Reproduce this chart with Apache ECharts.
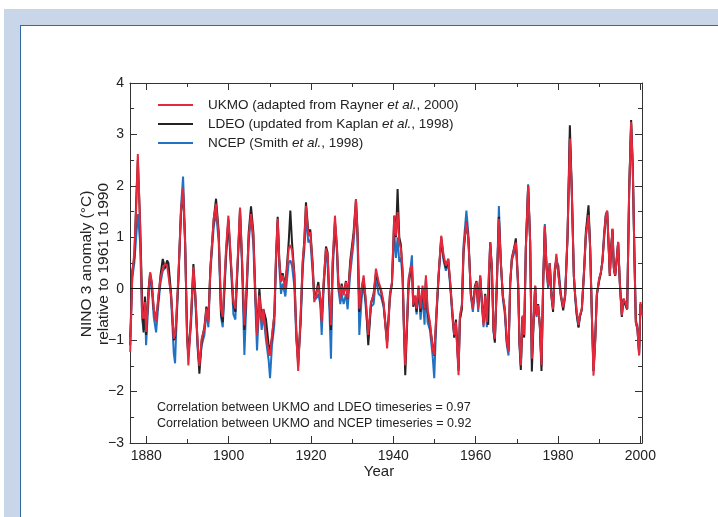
<!DOCTYPE html>
<html>
<head>
<meta charset="utf-8">
<script src="https://cdn.jsdelivr.net/npm/echarts@6/dist/echarts.min.js"></script>
<style>
  html, body { margin:0; padding:0; width:718px; height:517px; overflow:hidden; background:#fff; }
  #bg { position:absolute; left:4px; top:9px; right:0; bottom:0; background:#c9d5e8; }
  #panel { position:absolute; left:20px; top:25px; right:0; bottom:0; background:#fff;
           border-top:1px solid #2f6aa6; border-left:1px solid #2f6aa6; }
  #chart { position:absolute; left:0; top:0; width:718px; height:517px; }
</style>
</head>
<body>
<div id="bg"></div>
<div id="panel"></div>
<div id="chart"></div>
<script>
// ---- data ----
const years = [
 1876.1,1876.6,1877.1,1877.55,1877.95,1878.5,1879.0,1879.35,1879.7,1879.96,
 1880.5,1880.93,1881.34,1881.82,1882.39,1882.95,1883.44,1884.0,1884.57,1885.06,
 1885.38,1886.03,1886.68,1887.0,1887.24,1887.81,1888.45,1888.94,1889.43,1889.91,
 1890.23,1890.88,1891.45,1891.93,1892.5,1892.9,1893.47,1894.12,1894.6,1895.09,
 1895.57,1896.38,1896.95,
 1897.6,1898.16,1898.57,1899.38,1899.94,1900.59,1901.16,1901.64,1902.21,1902.77,
 1903.26,1903.83,1904.39,1904.88,1905.44,1906.01,1906.5,1906.9,1907.47,1908.03,
 1908.44,1909.08,1909.73,1910.06,1910.54,1911.11,1911.51,1911.92,1912.32,1912.73,
 1913.13,1913.78,1914.59,1914.99,1915.4,1915.96,1916.45,1916.9,1917.5,1918.0,
 1918.39,1918.79,
 1919.36,1919.84,1920.41,1920.81,1921.22,1921.79,1922.27,1922.6,1923.08,1923.65,
 1924.05,1924.46,1924.86,1925.27,1925.83,1926.32,1926.64,1927.13,1927.45,1927.94,
 1928.5,1928.9,1929.55,1930.36,1930.93,1931.33,1931.74,1932.3,1932.79,1933.36,
 1933.92,1934.57,1935.22,1935.78,1936.43,1937.0,1937.64,1938.5,
 1939.18,1939.67,1940.23,1940.64,1941.04,1941.45,1941.85,1942.25,1942.58,1942.9,
 1943.31,1943.71,1944.12,1944.52,1944.84,1945.33,1945.65,1946.14,1946.62,1947.11,
 1947.59,1947.92,1948.32,1948.89,1949.54,1949.94,1950.51,1950.99,1951.64,1952.21,
 1952.77,1953.34,1953.82,1954.39,1954.79,1955.2,1955.85,1956.17,1956.66,1957.06,
 1957.75,1958.2,1958.5,
 1958.84,1959.32,1959.81,1960.21,1960.62,1961.1,1961.51,1961.91,1962.32,1962.72,
 1963.05,1963.53,1963.94,1964.34,1964.66,1965.15,1965.64,1966.12,1966.61,1967.09,
 1967.58,1967.98,1968.39,1968.79,1969.36,1969.76,1969.92,1970.33,1970.65,1970.97,
 1971.38,1971.78,1972.19,1972.75,1973.24,1973.65,1974.05,1974.45,1974.78,1975.18,
 1975.59,1975.99,1976.4,1976.8,1977.2,1977.61,1978.0,1978.4,1978.8,1979.2,
 1979.6,1980.1,
 1980.69,1981.26,1981.74,1982.31,1982.88,1983.36,1983.85,1984.17,1984.5,1984.98,
 1985.3,1985.79,1986.36,1986.76,1987.41,1987.81,1988.22,1988.62,1989.03,1989.43,
 1989.99,1990.4,1990.8,1991.21,1991.61,1991.94,1992.26,1992.58,1992.91,1993.23,
 1993.56,1993.88,1994.2,1994.61,1995.01,1995.5,1995.9,1996.31,1996.8,1997.28,
 1997.76,1998.17,1998.57,1998.9,1999.3,1999.7,2000.03,2000.35
];

const ukmo = [
 -1.23,0.26,0.71,1.55,2.62,1.23,-0.52,-0.58,-0.26,-0.84,
 -0.13,0.32,0.13,-0.39,-0.65,-0.13,0.2,0.39,0.48,0.45,
 0.45,-0.13,-0.97,-0.9,-0.65,0.26,1.55,1.95,0.9,-0.9,
 -1.49,-0.52,0.42,-0.13,-1.1,-1.5,-0.97,-0.78,-0.39,-0.65,
 0.39,1.36,1.65,
 1.03,-0.39,-0.55,0.78,1.42,0.52,-0.26,-0.39,0.58,1.58,
 0.58,-0.71,0.06,1.03,1.45,1.03,-0.13,-0.9,-0.13,-0.65,
 -0.39,-0.9,-1.23,-1.3,-0.9,-0.52,0.65,1.36,0.52,0.13,
 0.26,0.0,0.78,0.85,0.75,0.26,-0.9,-1.6,-0.5,0.55,
 0.9,1.61,
 1.03,1.1,0.45,-0.26,-0.13,0.06,-0.19,-0.65,0.13,0.78,
 0.65,-0.13,-0.71,0.52,1.42,0.78,0.13,-0.19,0.06,-0.13,
 0.13,-0.19,0.45,1.03,1.74,1.03,-0.39,0.0,0.26,-0.26,
 -0.9,-0.26,-0.13,0.39,0.13,0.0,-0.26,-1.16,
 -0.13,0.13,1.42,1.03,1.49,0.9,0.78,0.39,-0.78,-1.49,
 -0.71,0.13,0.39,0.45,-0.32,-0.13,-0.39,0.06,-0.39,0.06,
 -0.39,0.26,-0.39,-0.65,-1.16,-1.29,-0.39,0.26,1.03,0.65,
 0.45,0.58,0.13,-0.52,-0.9,-0.65,-1.68,-0.52,-0.32,0.78,
 1.3,1.0,0.5,
 -0.13,-0.39,0.0,0.13,-0.39,0.26,-0.26,-0.71,-0.13,-0.65,
 -0.65,0.9,0.39,-0.78,-0.97,0.13,1.36,0.52,-0.13,-0.39,
 -1.03,-1.23,0.13,0.58,0.78,0.9,0.71,0.06,-1.03,-1.49,
 -0.52,-0.9,0.78,2.0,0.9,-1.36,-0.65,0.06,-0.52,-0.32,
 -0.71,-1.49,0.13,1.23,0.45,0.06,0.5,-0.15,-0.4,0.3,
 0.68,0.26,
 -0.13,-0.36,-0.13,1.04,2.92,1.88,0.26,-0.13,-0.39,-0.71,
 -0.52,-0.39,0.39,1.04,1.43,0.78,-0.52,-1.69,-1.04,-0.13,
 0.19,0.32,0.52,1.04,1.43,1.52,0.91,0.26,0.78,1.17,
 0.39,0.26,0.52,0.91,0.13,-0.52,-0.19,-0.26,-0.39,1.88,
 3.24,2.33,0.58,-0.65,-0.78,-1.3,-0.26,-0.52
];

const ldeo = [
 -1.1,0.35,0.6,1.7,2.5,1.3,-0.2,-0.85,-0.15,-0.9,
 -0.05,0.3,0.1,-0.4,-0.6,-0.2,0.25,0.58,0.4,0.55,
 0.5,-0.1,-1.0,-0.95,-0.7,0.2,1.5,1.85,0.9,-0.85,
 -1.3,-0.55,0.48,-0.15,-1.1,-1.65,-1.0,-0.75,-0.35,-0.6,
 0.4,1.35,1.75,
 1.1,-0.5,-0.65,0.7,1.35,0.45,-0.3,-0.45,0.5,1.55,
 0.55,-0.8,0.0,1.1,1.6,1.1,-0.1,-0.85,0.0,-0.6,
 -0.4,-0.6,-1.1,-1.2,-0.95,-0.5,0.6,1.4,0.55,0.15,
 0.3,0.05,0.9,1.52,0.9,0.3,-0.85,-1.5,-0.55,0.5,
 0.95,1.68,
 1.1,1.15,0.5,-0.2,-0.1,0.13,-0.2,-0.6,0.1,0.82,
 0.7,-0.2,-0.8,0.5,1.3,0.8,0.15,-0.15,0.1,-0.1,
 0.15,-0.2,0.55,1.1,1.74,1.1,-0.45,0.0,0.2,-0.3,
 -1.1,-0.3,-0.1,0.3,0.1,-0.05,-0.3,-1.05,
 -0.1,0.1,1.42,1.0,1.94,1.0,0.85,0.3,-0.8,-1.68,
 -0.8,0.05,0.3,0.4,-0.35,-0.2,-0.45,0.0,-0.45,0.0,
 -0.4,0.2,-0.45,-0.7,-1.1,-1.3,-0.45,0.25,1.0,0.6,
 0.4,0.58,0.1,-0.5,-0.95,-0.6,-1.6,-0.6,-0.4,0.7,
 1.3,1.0,0.5,
 -0.1,-0.35,0.05,0.15,-0.35,0.25,-0.25,-0.65,-0.1,-0.6,
 -0.7,0.9,0.4,-0.8,-1.05,0.1,1.4,0.5,-0.15,-0.4,
 -1.05,-1.2,0.1,0.6,0.8,0.98,0.75,0.05,-1.1,-1.58,
 -0.55,-0.95,0.8,2.0,0.9,-1.61,-0.7,0.05,-0.5,-0.3,
 -0.75,-1.6,0.1,1.2,0.45,0.05,0.5,-0.15,-0.45,0.3,
 0.6,0.3,
 -0.15,-0.42,-0.15,1.0,3.18,1.9,0.25,-0.15,-0.45,-0.75,
 -0.55,-0.4,0.4,1.1,1.62,0.8,-0.5,-1.6,-1.0,-0.1,
 0.15,0.3,0.55,1.0,1.4,1.5,0.9,0.25,0.8,1.15,
 0.4,0.25,0.5,0.9,0.1,-0.55,-0.2,-0.3,-0.4,1.9,
 3.28,2.35,0.6,-0.65,-0.8,-1.28,-0.3,-0.5
];

const ncep = [
 -0.95,0.2,0.5,1.0,1.45,0.9,-0.6,-0.8,-0.4,-1.1,
 -0.3,0.25,0.0,-0.55,-0.85,-0.3,0.1,0.35,0.4,0.5,
 0.4,-0.2,-1.25,-1.45,-0.9,0.2,1.6,2.18,1.0,-1.0,
 -1.3,-0.7,0.35,-0.25,-1.2,-1.5,-1.1,-0.9,-0.45,-0.75,
 0.3,1.2,1.5,
 0.9,-0.55,-0.75,0.6,1.3,0.4,-0.5,-0.6,0.5,1.45,
 0.45,-1.29,-0.1,0.9,1.4,0.85,-0.3,-1.2,-0.25,-0.8,
 -0.5,-1.0,-1.4,-1.74,-1.1,-0.7,0.5,1.3,0.4,-0.1,
 0.1,-0.15,0.5,0.55,0.45,0.05,-1.0,-1.4,-0.7,0.4,
 0.75,1.4,
 0.9,0.95,0.3,-0.15,-0.2,-0.1,-0.3,-0.9,0.0,0.65,
 0.5,-0.35,-1.36,0.3,1.25,0.7,0.0,-0.3,-0.1,-0.3,
 -0.1,-0.4,0.3,0.9,1.55,0.9,-0.9,-0.2,0.1,-0.4,
 -0.95,-0.35,-0.3,0.2,-0.1,-0.15,-0.35,-1.05,
 -0.2,0.1,1.1,0.6,1.0,0.52,0.6,0.2,-0.7,-1.3,
 -0.7,0.2,0.35,0.65,-0.2,-0.2,-0.5,0.0,-0.6,-0.1,
 -0.7,0.15,-0.65,-0.8,-1.3,-1.74,-0.5,0.2,0.95,0.55,
 0.35,0.5,0.05,-0.6,-0.9,-0.7,-1.55,-0.6,-0.3,0.85,
 1.52,1.1,0.55,
 -0.15,-0.45,-0.05,0.1,-0.45,0.2,-0.3,-0.75,-0.2,-0.75,
 -0.75,0.9,0.35,-0.85,-1.0,0.1,1.61,0.5,-0.2,-0.5,
 -1.1,-1.3,0.1,0.55,0.7,0.8,0.65,0.0,-1.05,-1.5,
 -0.55,-0.9,0.8,2.03,0.9,-1.4,-0.65,0.05,-0.55,-0.35,
 -0.7,-1.5,0.15,1.26,0.4,0.0,0.5,-0.1,-0.35,0.4,
 0.55,0.45,
 -0.1,-0.35,-0.1,1.0,2.95,1.85,0.25,-0.15,-0.5,-0.75,
 -0.55,-0.4,0.35,1.0,1.5,0.8,-0.5,-1.6,-1.0,-0.15,
 0.2,0.3,0.55,1.1,1.45,1.5,0.9,0.3,0.75,1.15,
 0.4,0.25,0.55,0.9,0.15,-0.5,-0.2,-0.3,-0.4,1.9,
 3.2,2.3,0.6,-0.6,-0.75,-1.25,-0.3,-0.5
];

const majorYears = [1880, 1900, 1920, 1940, 1960, 1980, 2000];
const minorYears = [1890, 1910, 1930, 1950, 1970, 1990];
const seriesNames = [
  'UKMO (adapted from Rayner et al., 2000)',
  'LDEO (updated from Kaplan et al., 1998)',
  'NCEP (Smith et al., 1998)'
];
const legendRich = {
  'UKMO (adapted from Rayner et al., 2000)': '{g|}{a|UKMO (adapted from Rayner }{i|et al.}{a|, 2000)}',
  'LDEO (updated from Kaplan et al., 1998)': '{g|}{a|LDEO (updated from Kaplan }{i|et al.}{a|, 1998)}',
  'NCEP (Smith et al., 1998)': '{g|}{a|NCEP (Smith }{i|et al.}{a|, 1998)}'
};
const corrTexts = [
  'Correlation between UKMO and LDEO timeseries = 0.97',
  'Correlation between UKMO and NCEP timeseries = 0.92'
];

// ---- chart ----
const FONT = 'Liberation Sans, Arial, Helvetica, sans-serif';
const AX = '#333';
const XMIN = 1876.05, XMAX = 2000.4;
const pair = arr => years.map((t, i) => [t, arr[i]]);

function xAx(pos, ticks, len, showLine, showLabel) {
  return {
    type: 'value', min: XMIN, max: XMAX, position: pos,
    axisLine: { show: showLine, onZero: false, lineStyle: { color: AX, width: 1 } },
    axisTick: { show: true, inside: true, length: len, customValues: ticks, lineStyle: { color: AX, width: 1 } },
    axisLabel: { show: showLabel, customValues: ticks, fontSize: 14, color: '#222', fontFamily: FONT, margin: 6,
                 formatter: v => String(Math.round(v)) },
    splitLine: { show: false }
  };
}
function yAx(pos, showLabel) {
  return {
    type: 'value', min: -3, max: 4, interval: 1, position: pos,
    axisLine: { show: true, onZero: false, lineStyle: { color: AX, width: 1 } },
    axisTick: { show: true, inside: true, length: 7, lineStyle: { color: AX, width: 1 } },
    minorTick: { show: true, splitNumber: 2, length: 4, lineStyle: { color: AX, width: 1 } },
    axisLabel: { show: showLabel, fontSize: 14, color: '#222', fontFamily: FONT, margin: 6,
                 formatter: v => String(v).replace('-', '\u2212') },
    splitLine: { show: false }
  };
}

const chart = echarts.init(document.getElementById('chart'), null, { renderer: 'canvas' });
chart.setOption({
  animation: false,
  backgroundColor: 'transparent',
  grid: { left: 130, top: 83, width: 512, height: 360, containLabel: false },
  xAxis: [
    xAx('bottom', majorYears, 7, true, true),
    xAx('bottom', minorYears, 4, false, false),
    xAx('top', majorYears, 7, true, false),
    xAx('top', minorYears, 4, false, false)
  ],
  yAxis: [ yAx('left', true), yAx('right', false) ],
  legend: {
    data: seriesNames, orient: 'vertical', left: 158, top: 98,
    icon: 'rect', itemWidth: 35, itemHeight: 2, itemGap: 5, padding: 0,
    formatter: n => legendRich[n],
    textStyle: {
      color: '#222', fontFamily: FONT, fontSize: 13.5,
      rich: {
        g: { width: 10 },
        a: { fontSize: 13.5, fontFamily: FONT, color: '#222', lineHeight: 15 },
        i: { fontSize: 13.5, fontFamily: FONT, color: '#222', fontStyle: 'italic', lineHeight: 15 }
      }
    }
  },
  series: [
    { name: seriesNames[2], type: 'line', data: pair(ncep), symbol: 'none', z: 2,
      lineStyle: { color: '#2272c3', width: 2 }, itemStyle: { color: '#2272c3' } },
    { name: seriesNames[1], type: 'line', data: pair(ldeo), symbol: 'none', z: 3,
      lineStyle: { color: '#222222', width: 2 }, itemStyle: { color: '#222222' } },
    { name: seriesNames[0], type: 'line', data: pair(ukmo), symbol: 'none', z: 4,
      lineStyle: { color: '#e4293c', width: 2 }, itemStyle: { color: '#e4293c' },
      markLine: { silent: true, symbol: 'none', label: { show: false },
                  lineStyle: { color: '#111', width: 1, type: 'solid' },
                  data: [{ yAxis: 0 }] } }
  ],
  graphic: [
    { type: 'text', x: 87, y: 264, rotation: Math.PI / 2,
      style: { text: 'NINO 3 anomaly (\u00B0C)', fill: '#222', font: '15.5px ' + FONT, textAlign: 'center', textVerticalAlign: 'middle' } },
    { type: 'text', x: 104, y: 264, rotation: Math.PI / 2,
      style: { text: 'relative to 1961 to 1990', fill: '#222', font: '15.5px ' + FONT, textAlign: 'center', textVerticalAlign: 'middle' } },
    { type: 'text', x: 379, y: 472,
      style: { text: 'Year', fill: '#222', font: '15px ' + FONT, textAlign: 'center', textVerticalAlign: 'middle' } },
    { type: 'text', x: 157, y: 408,
      style: { text: corrTexts[0], fill: '#222', font: '12.5px ' + FONT, textAlign: 'left', textVerticalAlign: 'middle' } },
    { type: 'text', x: 157, y: 424,
      style: { text: corrTexts[1], fill: '#222', font: '12.5px ' + FONT, textAlign: 'left', textVerticalAlign: 'middle' } }
  ]
});
</script>
</body>
</html>
